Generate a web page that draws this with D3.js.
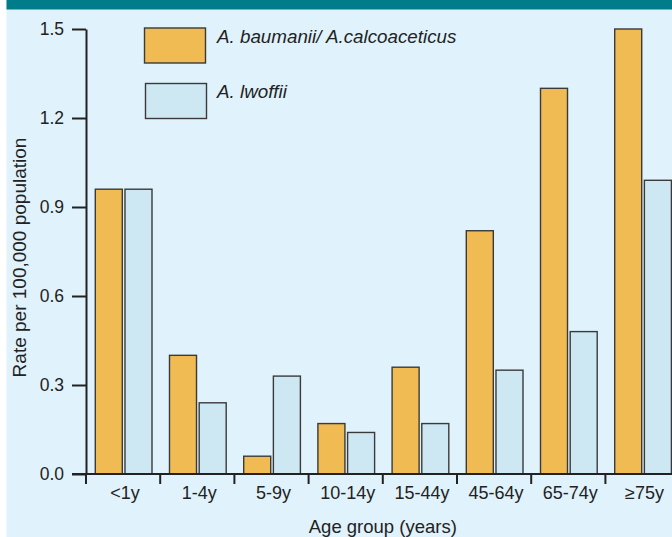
<!DOCTYPE html>
<html>
<head>
<meta charset="utf-8">
<script src="https://cdn.jsdelivr.net/npm/d3@7"></script>
<style>
  html, body { margin: 0; padding: 0; background: #ffffff; }
  svg { display: block; }
  text { font-family: "Liberation Sans", Arial, Helvetica, sans-serif; fill: #222; }
</style>
</head>
<body>
<svg id="chart" width="672" height="537"></svg>
<script>
const categories = ["<1y", "1-4y", "5-9y", "10-14y", "15-44y", "45-64y", "65-74y", "≥75y"];
const baumanii = [0.96, 0.40, 0.06, 0.17, 0.36, 0.82, 1.30, 1.50];
const lwoffii = [0.96, 0.24, 0.33, 0.14, 0.17, 0.35, 0.48, 0.99];
const seriesNames = ["A. baumanii/ A.calcoaceticus", "A. lwoffii"];
const seriesColors = ["#f0bb52", "#cde8f2"];
const yTicks = [0.0, 0.3, 0.6, 0.9, 1.2, 1.5];
const xTitle = "Age group (years)";
const yTitle = "Rate per 100,000 population";

const svg = d3.select("#chart");
const W = 672, H = 537;

// background panel
svg.append("rect").attr("x", 6.5).attr("y", 0).attr("width", W - 6.5).attr("height", H).attr("fill", "#e0f2fb");
svg.append("rect").attr("x", 6.5).attr("y", 0).attr("width", W - 6.5).attr("height", 9.5).attr("fill", "#007c8a");

const x0 = 86, y0 = 474, yTop = 29, step = 74.2;
const x = d3.scaleBand().domain(categories).range([x0, x0 + step * categories.length]).padding(0);
const xs = d3.scaleBand().domain(seriesNames).range([9.3, 66]).paddingInner(0.09).paddingOuter(0);
const y = d3.scaleLinear().domain([0, 1.5]).range([y0, yTop]);

const rows = categories.map((c, i) => ({ c, vals: [baumanii[i], lwoffii[i]] }));

// bars
const g = svg.append("g");
rows.forEach(r => {
  r.vals.forEach((v, k) => {
    g.append("rect")
      .attr("x", x(r.c) + xs(seriesNames[k]))
      .attr("y", y(v))
      .attr("width", xs.bandwidth())
      .attr("height", y(0) - y(v))
      .attr("fill", seriesColors[k])
      .attr("stroke", "#3a3a3a")
      .attr("stroke-width", 1.4);
  });
});

// y axis
const yAxis = d3.axisLeft(y).tickValues(yTicks).tickFormat(d3.format(".1f")).tickSize(14).tickSizeOuter(0).tickPadding(8);
const ya = svg.append("g").attr("transform", `translate(${x0},0)`).call(yAxis);
ya.select(".domain").attr("stroke", "#222").attr("stroke-width", 2);
ya.selectAll(".tick line").attr("stroke", "#222").attr("stroke-width", 2);
ya.selectAll(".tick text").style("font-size", "17.5px").attr("fill", "#222");

// x axis line
svg.append("line").attr("x1", 72).attr("x2", W).attr("y1", y0).attr("y2", y0)
  .attr("stroke", "#222").attr("stroke-width", 2);
// x ticks at band boundaries
svg.append("g").selectAll("line").data(categories).join("line")
  .attr("x1", d => x(d)).attr("x2", d => x(d))
  .attr("y1", y0).attr("y2", y0 + 10)
  .attr("stroke", "#222").attr("stroke-width", 2);
// x labels
const xAxis = d3.axisBottom(x).tickSize(0).tickPadding(0);
const xa = svg.append("g").attr("transform", `translate(2,${y0})`).call(xAxis);
xa.select(".domain").remove();
xa.selectAll(".tick text").attr("dy", null).attr("y", 24.5).style("font-size", "18px").attr("fill", "#222");

// axis titles
svg.append("text").attr("x", (x0 + x0 + step * categories.length) / 2).attr("y", 533)
  .attr("text-anchor", "middle").style("font-size", "18.5px").text(xTitle);
svg.append("text").attr("transform", `translate(26,257.5) rotate(-90)`)
  .attr("text-anchor", "middle").style("font-size", "19px").text(yTitle);

// legend
const leg = [
  { name: seriesNames[0], color: seriesColors[0], rx: 144.5, ry: 28, rw: 61, rh: 35, ty: 43.3 },
  { name: seriesNames[1], color: seriesColors[1], rx: 145.5, ry: 83.5, rw: 61, rh: 35, ty: 98 }
];
leg.forEach(l => {
  svg.append("rect").attr("x", l.rx).attr("y", l.ry).attr("width", l.rw).attr("height", l.rh)
    .attr("fill", l.color).attr("stroke", "#3a3a3a").attr("stroke-width", 1.4);
  svg.append("text").attr("x", 217).attr("y", l.ty).style("font-size", "18.8px")
    .style("font-style", "italic").text(l.name);
});
</script>
</body>
</html>
